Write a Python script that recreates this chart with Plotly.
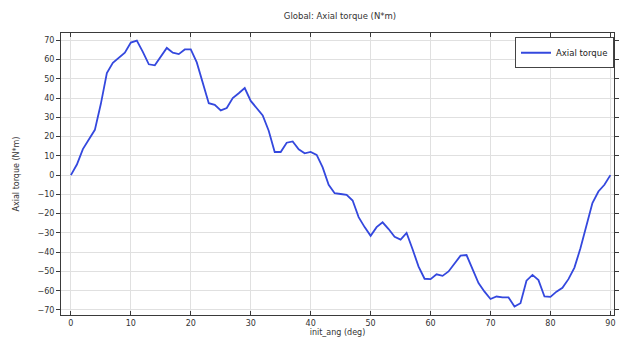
import plotly.graph_objects as go

init_ang = list(range(0, 91))
axial_torque = [
    0, 5.5, 13.5, 18.5, 23.5, 37, 53, 58.3, 61, 63.5,
    68.8, 69.8, 64, 57.5, 57, 61.5, 66, 63.5, 62.8, 65.2,
    65.2, 58.5, 47.5, 37.3, 36.5, 33.6, 34.8, 40, 42.5, 45.2,
    38.5, 34.5, 31, 23, 12, 12, 16.8, 17.5, 13.4, 11.3,
    12, 10.5, 4, -5, -9.4, -9.8, -10.2, -13.2, -21.8, -27,
    -31.5, -27, -24.5, -28, -32, -33.5, -30, -38.5, -47.5, -53.8,
    -54, -51.5, -52.3, -50, -46, -41.8, -41.5, -49, -56, -60.5,
    -64.3, -63, -63.5, -63.5, -68.2, -66.5, -54.8, -51.8, -54.5, -63,
    -63.2, -60.5, -58.5, -54, -48, -38, -26, -14.5, -8.5, -5,
    0,
]
x_ticks = list(range(0, 91, 10))
y_ticks = list(range(-70, 71, 10))

fig = go.Figure()
fig.add_trace(go.Scatter(
    x=init_ang, y=axial_torque, mode="lines", name="Axial torque",
    line=dict(color="rgb(52,72,222)", width=1.8),
))

axis_common = dict(
    showline=True, linecolor="#3a3a3a", linewidth=1, mirror="ticks",
    showgrid=True, gridcolor="#e0e0e0", gridwidth=1,
    zeroline=False, tickcolor="#3a3a3a", ticklen=4,
    tickfont=dict(family="DejaVu Sans", size=8, color="#333333"),
)

fig.update_layout(
    width=625, height=341,
    margin=dict(l=61, r=6, t=33, b=24),
    paper_bgcolor="white", plot_bgcolor="white",
    title=dict(text="Global: Axial torque (N*m)", x=0.544, xanchor="center",
               y=0.952, yanchor="middle",
               font=dict(family="DejaVu Sans", size=8.5, color="#333333")),
    xaxis=dict(axis_common, range=[-1.65, 90.6], tickvals=x_ticks, ticks="inside",
               title=dict(text="init_ang (deg)", standoff=2,
                          font=dict(family="DejaVu Sans", size=8, color="#333333"))),
    yaxis=dict(axis_common, range=[-72.6, 73.75], tickvals=y_ticks, ticks="outside",
               title=dict(text="Axial torque (N*m)", standoff=16,
                          font=dict(family="DejaVu Sans", size=8, color="#333333"))),
    legend=dict(x=1.0, xanchor="right", y=0.985, yanchor="top",
                bordercolor="#444444", borderwidth=1, bgcolor="white",
                font=dict(family="DejaVu Sans", size=8.5, color="#222222"),
                itemwidth=30, tracegroupgap=0),
    showlegend=True,
)

fig.write_html("out.html")
